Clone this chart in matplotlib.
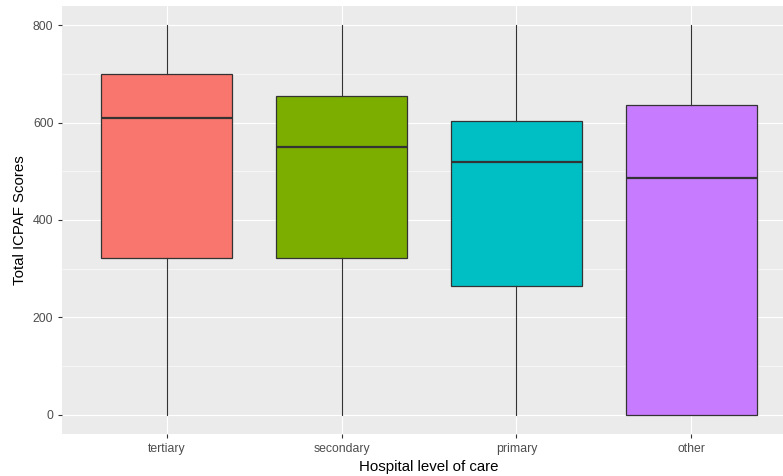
import matplotlib
matplotlib.use("Agg")
import matplotlib.pyplot as plt

categories = ["tertiary", "secondary", "primary", "other"]
whisker_low = [0, 0, 0, 0]
q1 = [321, 322, 265, 0]
median = [610, 551, 519, 486]
q3 = [700, 655, 604, 636]
whisker_high = [800, 800, 800, 800]
colors = ["#F8766D", "#7CAE00", "#00BFC4", "#C77CFF"]
yticks = [0, 200, 400, 600, 800]

plt.rcParams['font.family'] = ['Liberation Sans', 'DejaVu Sans']

fig = plt.figure(figsize=(7.83, 4.76), dpi=100)
W, H = 783, 476
left, right, top, bottom = 62, 796, 6, 434
ax = fig.add_axes([left / W, (H - bottom) / H, (right - left) / W, (bottom - top) / H])
ax.set_facecolor("#EBEBEB")
for s in ax.spines.values():
    s.set_visible(False)

ax.set_xlim(0.4, 4.6)
ax.set_ylim(-40, 840)

# grid
for y in [100, 300, 500, 700]:
    ax.axhline(y, color="white", lw=0.4, zorder=0)
for y in yticks:
    ax.axhline(y, color="white", lw=0.8, zorder=0)
for i in range(len(categories)):
    ax.axvline(i + 1, color="white", lw=0.8, zorder=0)

stats = []
for i, c in enumerate(categories):
    stats.append(dict(label=c, whislo=whisker_low[i], q1=q1[i], med=median[i],
                      q3=q3[i], whishi=whisker_high[i], fliers=[]))

bp = ax.bxp(stats, positions=range(1, len(categories) + 1), widths=0.75,
            patch_artist=True, showcaps=False, showfliers=False,
            boxprops=dict(edgecolor="#333333", linewidth=0.9),
            whiskerprops=dict(color="#333333", linewidth=0.8),
            medianprops=dict(color="#333333", linewidth=1.6),
            zorder=2)
for patch, col in zip(bp["boxes"], colors):
    patch.set_facecolor(col)

ax.set_xticks(range(1, len(categories) + 1))
ax.set_xticklabels(categories)
ax.set_yticks(yticks)
ax.tick_params(axis="both", length=2.7, width=0.8, color="#333333",
               labelcolor="#4D4D4D", labelsize=8.8, pad=3.5)

ax.set_xlabel("Hospital level of care", fontsize=10.8, color="black", labelpad=4)
ax.set_ylabel("Total ICPAF Scores", fontsize=10.8, color="black", labelpad=4)

fig.savefig("out.png", dpi=100)
